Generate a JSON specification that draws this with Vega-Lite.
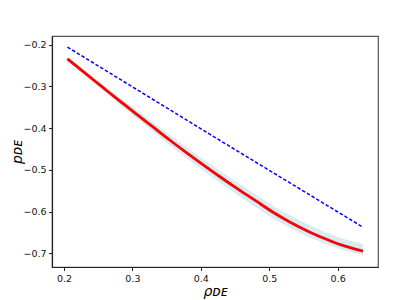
{
  "$schema": "https://vega.github.io/schema/vega-lite/v6.json",
  "autosize": "none",
  "width": 326,
  "height": 231,
  "padding": {"left": 52, "top": 36, "right": 42, "bottom": 33},
  "background": "white",
  "config": {
    "view": {"stroke": "#555", "strokeWidth": 1.2},
    "axis": {
      "grid": false,
      "domainColor": "#222",
      "domainWidth": 1.2,
      "tickColor": "#222",
      "tickSize": 3.5,
      "tickWidth": 1,
      "labelFont": "DejaVu Sans",
      "labelFontSize": 9.5,
      "labelColor": "#111",
      "labelPadding": 2.5,
      "titleFont": "DejaVu Sans",
      "titleFontSize": 14,
      "titleFontStyle": "italic",
      "titleFontWeight": "normal",
      "titleColor": "#000"
    }
  },
  "datasets": {
    "fit": [
      {"rho": 0.205, "p": -0.234, "lo": -0.238, "hi": -0.230},
      {"rho": 0.23, "p": -0.267, "lo": -0.272, "hi": -0.262},
      {"rho": 0.255, "p": -0.300, "lo": -0.307, "hi": -0.293},
      {"rho": 0.28, "p": -0.333, "lo": -0.341, "hi": -0.325},
      {"rho": 0.305, "p": -0.365, "lo": -0.375, "hi": -0.355},
      {"rho": 0.33, "p": -0.397, "lo": -0.408, "hi": -0.386},
      {"rho": 0.355, "p": -0.429, "lo": -0.441, "hi": -0.417},
      {"rho": 0.38, "p": -0.460, "lo": -0.473, "hi": -0.447},
      {"rho": 0.405, "p": -0.490, "lo": -0.504, "hi": -0.476},
      {"rho": 0.43, "p": -0.519, "lo": -0.533, "hi": -0.505},
      {"rho": 0.455, "p": -0.547, "lo": -0.562, "hi": -0.532},
      {"rho": 0.48, "p": -0.574, "lo": -0.589, "hi": -0.559},
      {"rho": 0.505, "p": -0.601, "lo": -0.616, "hi": -0.586},
      {"rho": 0.53, "p": -0.625, "lo": -0.639, "hi": -0.609},
      {"rho": 0.555, "p": -0.646, "lo": -0.659, "hi": -0.630},
      {"rho": 0.58, "p": -0.664, "lo": -0.676, "hi": -0.648},
      {"rho": 0.605, "p": -0.680, "lo": -0.691, "hi": -0.664},
      {"rho": 0.637, "p": -0.695, "lo": -0.704, "hi": -0.678}
    ],
    "ref": [
      {"rho": 0.205, "p": -0.2055},
      {"rho": 0.42, "p": -0.4215},
      {"rho": 0.637, "p": -0.6375}
    ]
  },
  "layer": [
    {
      "data": {"name": "fit"},
      "mark": {"type": "area", "color": "#add8e6", "opacity": 0.5},
      "encoding": {
        "x": {"field": "rho", "type": "quantitative"},
        "y": {"field": "lo", "type": "quantitative"},
        "y2": {"field": "hi"}
      }
    },
    {
      "data": {"name": "ref"},
      "mark": {"type": "line", "color": "#0000ff", "strokeWidth": 1.5, "strokeDash": [3.5, 2]},
      "encoding": {
        "x": {"field": "rho", "type": "quantitative"},
        "y": {"field": "p", "type": "quantitative"}
      }
    },
    {
      "data": {"name": "fit"},
      "mark": {"type": "line", "color": "#ff0000", "strokeWidth": 2.8, "interpolate": "monotone"},
      "encoding": {
        "x": {
          "field": "rho",
          "type": "quantitative",
          "scale": {"domain": [0.1825, 0.659], "nice": false, "zero": false},
          "axis": {
            "values": [0.2, 0.3, 0.4, 0.5, 0.6],
            "format": ".1f",
            "title": "ρᴅᴇ",
            "titleBaseline": "alphabetic",
            "titleY": 28
          }
        },
        "y": {
          "field": "p",
          "type": "quantitative",
          "scale": {"domain": [-0.733, -0.179], "nice": false, "zero": false},
          "axis": {
            "values": [-0.2, -0.3, -0.4, -0.5, -0.6, -0.7],
            "labelExpr": "replace(format(datum.value, '.1f'), '-', '\u2212')",
            "title": "pᴅᴇ",
            "titleBaseline": "alphabetic",
            "titleX": -31
          }
        }
      }
    }
  ]
}
